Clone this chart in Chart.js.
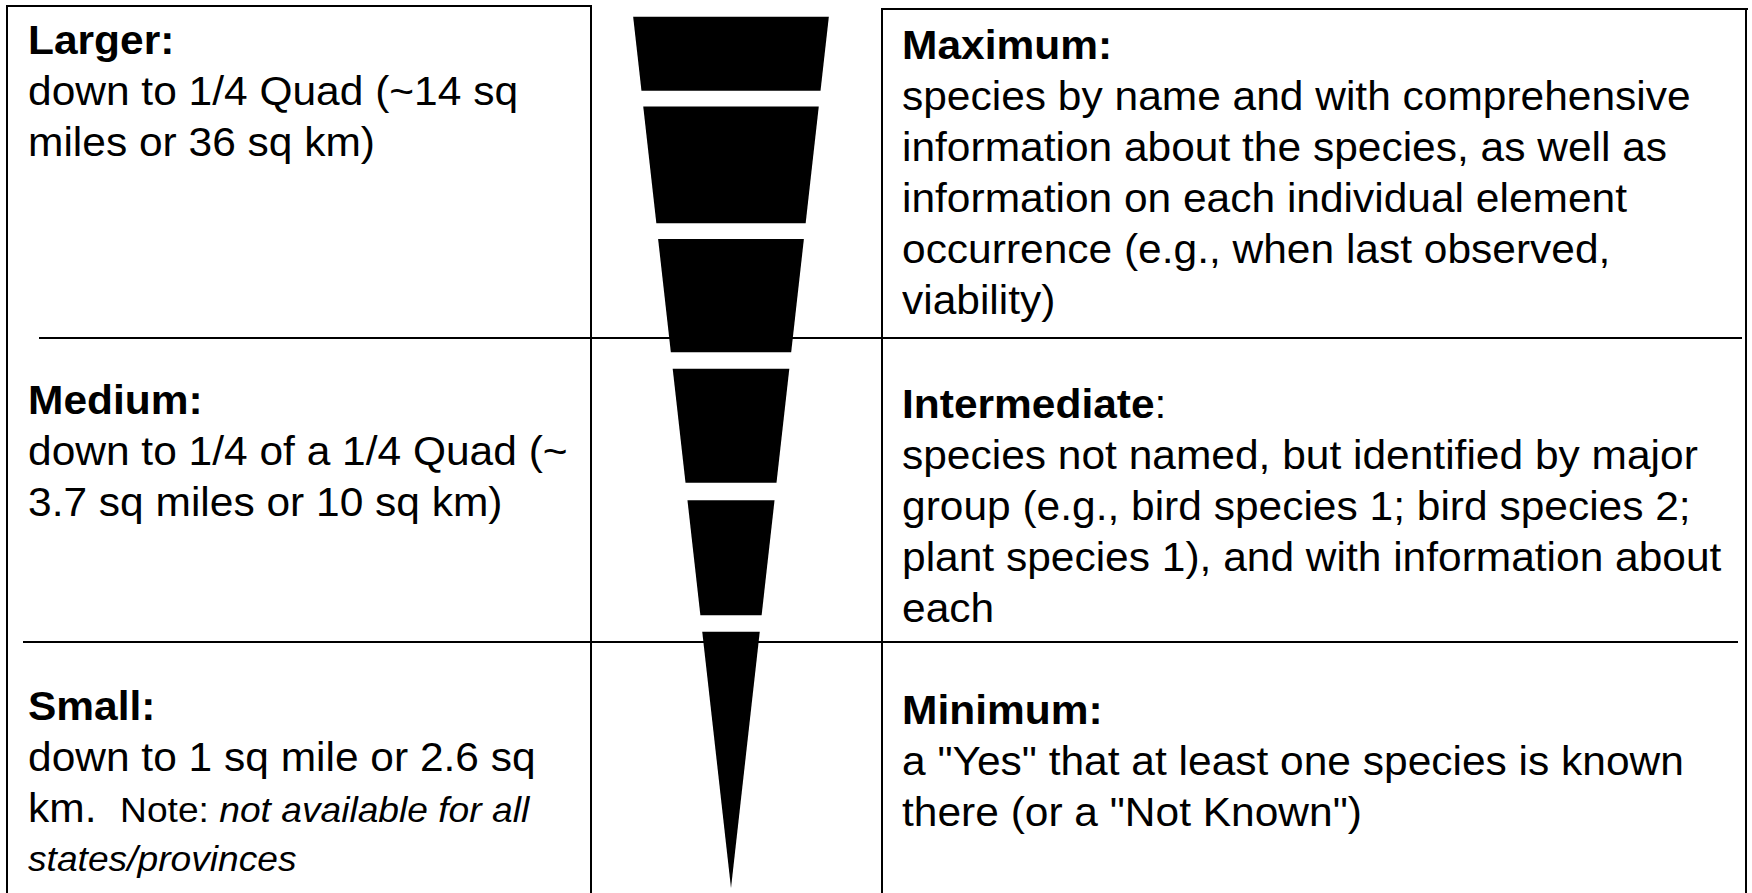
<!DOCTYPE html>
<html>
<head>
<meta charset="utf-8">
<script src="https://cdn.jsdelivr.net/npm/chart.js@4.4.1/dist/chart.umd.min.js"></script>
<style>
  html, body { margin:0; padding:0; background:#fff; width:1752px; height:893px; overflow:hidden; }
  #stage { position:relative; width:1752px; height:893px; }
  .ln { position:absolute; background:#000; }
  .txt { position:absolute; font-family:'Liberation Sans', Arial, sans-serif; font-size:40px; line-height:51.2px;
         color:#000; white-space:nowrap; transform:scaleX(1.062); transform-origin:0 0; }
  .txt div { height:51.2px; }
  .txt .sm { font-size:35px; }
  .txt div.smline { height:45px; line-height:45px; }
  #funnelWrap { position:absolute; left:613px; top:0; width:236px; height:893px; z-index:2; }
</style>
</head>
<body>
<div id="stage">
  <!-- table rules -->
  <div class="ln" style="left:6px;top:4.5px;width:586px;height:2px;"></div>
  <div class="ln" style="left:6px;top:4.5px;width:2px;height:889px;"></div>
  <div class="ln" style="left:590px;top:4.5px;width:2px;height:889px;"></div>
  <div class="ln" style="left:881px;top:8px;width:867px;height:2px;"></div>
  <div class="ln" style="left:881px;top:8px;width:2px;height:885px;"></div>
  <div class="ln" style="left:1745px;top:8px;width:2px;height:885px;"></div>
  <div class="ln" style="left:39px;top:336.5px;width:1703px;height:2px;"></div>
  <div class="ln" style="left:23px;top:641px;width:1715px;height:2px;"></div>

  <div id="funnelWrap"><canvas id="funnel" width="236" height="893"></canvas></div>
  <div id="texts"></div>
</div>
<script>
// ---- Categories (table rows) ----
const resolutionTitles = ['Larger', 'Medium', 'Small'];
const resolutionText = [
  ['down to 1/4 Quad (~14 sq', 'miles or 36 sq km)'],
  ['down to 1/4 of a 1/4 Quad (~', '3.7 sq miles or 10 sq km)'],
  ['down to 1 sq mile or 2.6 sq']
];
const smallNote = ['km.', 'Note:', 'not available for all', 'states/provinces'];
const detailTitles = ['Maximum', 'Intermediate', 'Minimum'];
const detailText = [
  ['species by name and with comprehensive', 'information about the species, as well as',
   'information on each individual element', 'occurrence (e.g., when last observed,', 'viability)'],
  ['species not named, but identified by major', 'group (e.g., bird species 1; bird species 2;',
   'plant species 1), and with information about', 'each'],
  ['a "Yes" that at least one species is known', 'there (or a "Not Known")']
];

// ---- Funnel bands: depth (0 = top, 100 = tip) where each black band starts / ends ----
const bandStart = [0, 10.3, 25.5, 40.4, 55.5, 70.6];
const bandEnd   = [8.5, 23.7, 38.5, 53.5, 68.7, 100];
// relative half-width of funnel at the top (1) and at the tip (0)
const widthTop = 1;
const widthTip = 0;

// ---- text blocks ----
const texts = document.getElementById('texts');
function esc(s){ return s.replace(/&/g,'&amp;').replace(/</g,'&lt;'); }
const leftTops = [15, 375, 681];
const rightTops = [19.5, 378.5, 684.5];
resolutionTitles.forEach((t, i) => {
  const d = document.createElement('div');
  d.className = 'txt';
  d.style.left = '28px';
  d.style.top = leftTops[i] + 'px';
  let html = '<div><b>' + esc(t) + ':</b></div>';
  resolutionText[i].forEach(l => html += '<div>' + esc(l) + '</div>');
  if (i === 2) {
    html += '<div>' + esc(smallNote[0]) + '&nbsp; <span class="sm">' + esc(smallNote[1]) +
            ' <i>' + esc(smallNote[2]) + '</i></span></div>';
    html += '<div class="smline"><i class="sm">' + esc(smallNote[3]) + '</i></div>';
  }
  d.innerHTML = html;
  texts.appendChild(d);
});
detailTitles.forEach((t, i) => {
  const d = document.createElement('div');
  d.className = 'txt';
  d.style.left = '902px';
  d.style.top = rightTops[i] + 'px';
  let html = i === 1 ? '<div><b>' + esc(t) + '</b>:</div>' : '<div><b>' + esc(t) + ':</b></div>';
  detailText[i].forEach(l => html += '<div>' + esc(l) + '</div>');
  d.innerHTML = html;
  texts.appendChild(d);
});

// ---- funnel drawn with Chart.js ----
function halfWidth(depth){ return widthTop + (widthTip - widthTop) * depth / 100; }
const datasets = bandStart.map((s, i) => {
  const e = bandEnd[i];
  return {
    label: 'band ' + (i + 1),
    data: [
      {x: -halfWidth(s), y: s}, {x: halfWidth(s), y: s},
      {x: halfWidth(e), y: e}, {x: -halfWidth(e), y: e},
      {x: -halfWidth(s), y: s}
    ],
    fill: 'shape',
    backgroundColor: '#000000',
    borderColor: 'rgba(0,0,0,0)',
    borderWidth: 0,
    pointRadius: 0,
    tension: 0
  };
});

new Chart(document.getElementById('funnel'), {
  type: 'line',
  data: { datasets },
  options: {
    responsive: false,
    animation: false,
    devicePixelRatio: 1,
    layout: { padding: 0 },
    plugins: { legend: { display: false }, tooltip: { enabled: false } },
    scales: {
      x: { type: 'linear', display: false, min: -1.206, max: 1.206 },
      y: { type: 'linear', display: false, reverse: true, min: -1.917, max: 100.574 }
    }
  }
});
</script>
</body>
</html>
